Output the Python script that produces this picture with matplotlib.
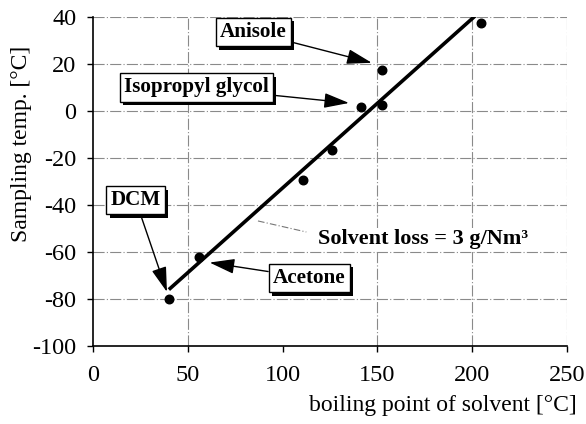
import numpy as np
import matplotlib
matplotlib.use("Agg")
import matplotlib.pyplot as plt
import matplotlib.patheffects as pe

plt.rcParams['font.family'] = ['Liberation Serif', 'DejaVu Serif']
plt.rcParams['axes.unicode_minus'] = False

# measured points (boiling point vs sampling temperature)
boil_pt = [40, 56, 110.5, 126, 141.5, 152.5, 152.5, 204.5]
samp_temp = [-80, -62, -29.5, -16.5, 1.7, 2.5, 17.5, 37.5]

# fitted line for solvent loss = 3 g/Nm3
fit_x = [40, 203]
fit_y = [-76, 41.5]

# labels: text, arrow tip, box centre
labels = ['Anisole', 'Isopropyl glycol', 'DCM', 'Acetone']
tips = [(147, 20.5), (135, 3.4), (39, -77), (61.5, -64.5)]
boxes = [(84.5, 33.5), (54.5, 10), (22.5, -38), (114, -71)]

fig = plt.figure(figsize=(5.86, 4.24), dpi=100)
ax = fig.add_axes([0.1587, 0.184, 0.809, 0.776])

grid_kw = dict(color='#8a8a8a', lw=0.8, dashes=(10, 2, 1, 2), zorder=0)
for gx in [50, 150, 200, 250]:
    ax.axvline(gx, **grid_kw)
for gy in range(-80, 41, 20):
    ax.axhline(gy, **grid_kw)

ax.plot(fit_x, fit_y, color='black', lw=2.6, solid_capstyle='butt', zorder=3, clip_on=True)
ax.scatter(boil_pt, samp_temp, s=38, color='black', zorder=4)

for txt, tip, box in zip(labels, tips, boxes):
    an = ax.annotate(txt, xy=tip, xytext=box, ha='center', va='center',
                     fontsize=15.2, fontweight='bold', zorder=5,
                     bbox=dict(boxstyle='square,pad=0.2', fc='white', ec='black', lw=1.0),
                     arrowprops=dict(arrowstyle='-|>,head_length=1.1,head_width=0.33',
                                     color='black', lw=1.0, shrinkA=0, shrinkB=0,
                                     mutation_scale=14))
    an.get_bbox_patch().set_path_effects([
        pe.SimplePatchShadow(offset=(2.5, -2.5), shadow_rgbFace='black', alpha=1.0),
        pe.Normal()])

# leader and label for the fitted line
ax.plot([87, 112.5], [-46.8, -51.5], color='#777777', lw=0.8, dashes=(6, 2, 1, 2), zorder=2)
ax.text(174, -54.5, 'Solvent loss = 3 g/Nm³', ha='center', va='center',
        fontsize=16, fontweight='bold', zorder=5,
        bbox=dict(boxstyle='square,pad=0.05', fc='white', ec='none'))

ax.set_xlim(0, 250)
ax.set_ylim(-100, 40)
ax.set_xticks(np.arange(0, 251, 50))
ax.set_yticks(np.arange(-100, 41, 20))
ax.tick_params(labelsize=17.5, length=4, width=1.0, direction='out')
ax.tick_params(axis='x', pad=10)
ax.tick_params(axis='y', pad=8)
ax.spines['top'].set_visible(False)
ax.spines['right'].set_visible(False)
ax.spines['left'].set_linewidth(1.2)
ax.spines['bottom'].set_linewidth(1.2)
ax.set_xlabel('boiling point of solvent [°C]', fontsize=17)
ax.set_ylabel('Sampling temp. [°C]', fontsize=17)
ax.xaxis.set_label_coords(0.737, -0.149)
ax.yaxis.set_label_coords(-0.129, 0.614)

fig.savefig('out.png', dpi=100)
